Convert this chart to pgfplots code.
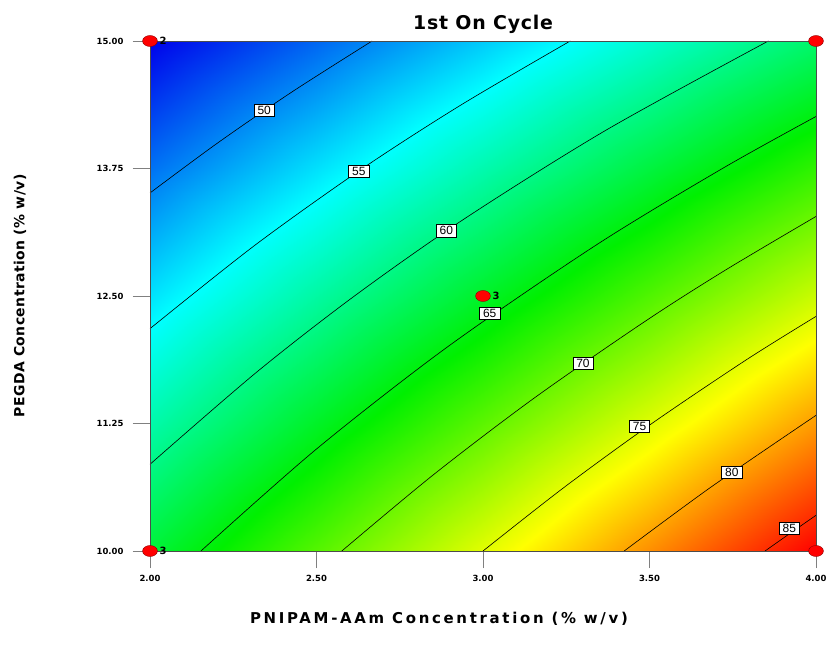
\documentclass[border=0pt]{standalone}
\usepackage{fontspec}
\setmainfont{DejaVu Sans}
\newfontfamily\boxfont{Liberation Sans}
\newfontfamily\widefont[LetterSpace=18]{DejaVu Sans}
\newfontfamily\ylabfont[LetterSpace=3]{DejaVu Sans}
\newfontfamily\titlefont[LetterSpace=4]{DejaVu Sans}
\usepackage{pgfplots}
\pgfplotsset{compat=1.18}
\begin{document}
\begin{tikzpicture}
\useasboundingbox (-150bp,-105bp) rectangle (678bp,551bp);
\begin{axis}[
  at={(0,0)}, anchor=south west,
  scale only axis, width=666bp, height=510bp,
  view={0}{90},
  xmin=2, xmax=4, ymin=10, ymax=15,
  clip=false,
  xtick={2,2.5,3,3.5,4}, ytick={10,11.25,12.5,13.75,15}, ztick=\empty,
  tick pos=left,
  tick align=outside, major tick length=17bp,
  tick style={draw=gray, line width=0.8pt},
  axis line style={draw=gray!60!black, line width=0.8pt},
  /pgf/number format/assume math mode=true,
  xticklabel style={/pgf/number format/.cd, fixed, fixed zerofill, precision=2, /tikz/.cd, font=\bfseries\fontsize{8.5}{9}\selectfont, yshift=-4bp},
  yticklabel style={/pgf/number format/.cd, fixed, fixed zerofill, precision=2, /tikz/.cd, font=\bfseries\fontsize{8.5}{9}\selectfont, xshift=-6bp},
  colormap={de}{rgb255=(0,0,235) rgb255=(0,255,255) rgb255=(0,240,0) rgb255=(255,255,0) rgb255=(255,0,0)},
  point meta min=44.4, point meta max=86.8,
  title={1st On Cycle},
  title style={font=\titlefont\bfseries\fontsize{19}{20}\selectfont, at={(0.5,1)}, anchor=center, yshift=11bp},
]
\addplot3[surf, shader=interp, mesh/cols=5] table[x=x, y=y, z=v] {
x y v
2 10 63.2
2.5 10 69.1
3 10 75.0
3.5 10 80.9
4 10 86.8
2 11.25 58.5
2.5 11.25 64.0
3 11.25 69.45
3.5 11.25 74.9
4 11.25 80.4
2 12.5 53.8
2.5 12.5 58.85
3 12.5 63.9
3.5 12.5 68.95
4 12.5 74.0
2 13.75 49.1
2.5 13.75 53.7
3 13.75 58.35
3.5 13.75 63.0
4 13.75 67.6
2 15 44.4
2.5 15 48.6
3 15 52.8
3.5 15 57.0
4 15 61.2
};
\pgfplotsset{cline/.style={black, line width=0.6bp, smooth, no marks}}
\addplot3[cline] coordinates {(2,13.51,0) (2.203,14.0,0) (2.426,14.5,0) (2.667,15,0)};
\addplot3[cline] coordinates {(2,12.18,0) (2.316,13.0,0) (2.638,13.75,0) (2.935,14.375,0) (3.262,15,0)};
\addplot3[cline] coordinates {(2,10.85,0) (2.319,11.75,0) (2.614,12.5,0) (2.941,13.25,0) (3.369,14.125,0) (3.857,15,0)};
\addplot3[cline] coordinates {(2.153,10,0) (2.5,11.0,0) (2.893,12.0,0) (3.340,13.0,0) (3.719,13.75,0) (4,14.26,0)};
\addplot3[cline] coordinates {(2.576,10,0) (2.852,10.75,0) (3.154,11.5,0) (3.486,12.25,0) (3.726,12.75,0) (4,13.28,0)};
\addplot3[cline] coordinates {(3.0,10,0) (3.244,10.625,0) (3.507,11.25,0) (3.791,11.875,0) (4,12.30,0)};
\addplot3[cline] coordinates {(3.424,10,0) (3.684,10.625,0) (4,11.33,0)};
\addplot3[cline] coordinates {(3.847,10,0) (3.923,10.175,0) (4,10.35,0)};
\tikzset{clab/.style={draw=black, fill=white, line width=0.5bp, inner xsep=3.5bp, inner ysep=1.8bp, font=\boxfont\fontsize{12}{12}\selectfont}}
\node[clab] at (axis cs:2.343,14.32,0) {50};
\node[clab] at (axis cs:2.627,13.725,0) {55};
\node[clab] at (axis cs:2.89,13.14,0) {60};
\node[clab] at (axis cs:3.02,12.33,0) {65};
\node[clab] at (axis cs:3.30,11.84,0) {70};
\node[clab] at (axis cs:3.47,11.22,0) {75};
\node[clab] at (axis cs:3.747,10.77,0) {80};
\node[clab] at (axis cs:3.92,10.22,0) {85};
\addplot3[only marks, mark=*, mark size=5.5bp,
  mark options={xscale=1.35, fill=red, draw=red!55!black, line width=0.4bp},
  point meta=explicit symbolic, nodes near coords,
  nodes near coords style={anchor=west, xshift=6bp, yshift=0bp, font=\bfseries\fontsize{10}{10}\selectfont, text=black}]
  table[x=x, y=y, z=z, meta=lab] {
x y z lab
2 15 0 2
4 15 0 {}
3 12.5 0 3
2 10 0 3
4 10 0 {}
};
\end{axis}
\node[font=\widefont\bfseries\fontsize{15}{16}\selectfont] at (289bp,-68bp) {PNIPAM-AAm Concentration (\% w/v)};
\node[font=\ylabfont\bfseries\fontsize{14}{16}\selectfont, rotate=90] at (-130bp,255bp) {PEGDA Concentration (\% w/v)};
\end{tikzpicture}
\end{document}
